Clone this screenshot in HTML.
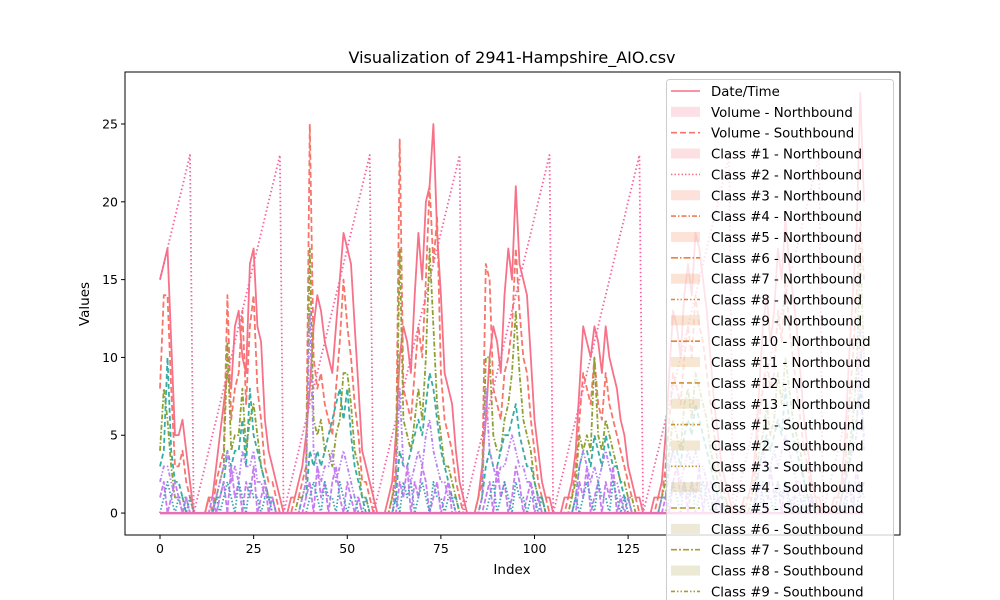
<!DOCTYPE html>
<html><head><meta charset="utf-8"><style>
html,body{margin:0;padding:0;background:#fff;}
svg{display:block;font-family:"DejaVu Sans","Liberation Sans",sans-serif;}
</style></head><body>
<svg id="chart" width="1000" height="600" viewBox="0 0 1000 600">
<rect x="0" y="0" width="1000" height="600" fill="#fff"/>
<text x="512" y="63" font-size="16" text-anchor="middle">Visualization of 2941-Hampshire_AIO.csv</text>
<g id="plot"></g>
<rect x="125" y="72" width="775" height="463" fill="none" stroke="#000" stroke-width="1"/>
<g id="xt"></g>
<g id="yt"></g>
<text x="512" y="574" font-size="13.5" text-anchor="middle">Index</text>
<text x="89" y="304" font-size="13.5" text-anchor="middle" transform="rotate(-90 89 304)">Values</text>
<g id="legend"></g>
</svg>
<script>
const xTicks=[0,25,50,75,100,125];
const yTicks=[0,5,10,15,20,25];
const hours=[15,16,17,18,19,20,21,22,23,
0,1,2,3,4,5,6,7,8,9,10,11,12,13,14,15,16,17,18,19,20,21,22,23,
0,1,2,3,4,5,6,7,8,9,10,11,12,13,14,15,16,17,18,19,20,21,22,23,
0,1,2,3,4,5,6,7,8,9,10,11,12,13,14,15,16,17,18,19,20,21,22,23,
0,1,2,3,4,5,6,7,8,9,10,11,12,13,14,15,16,17,18,19,20,21,22,23,
0,1,2,3,4,5,6,7,8,9,10,11,12,13,14,15,16,17,18,19,20,21,22,23,
0,1,2,3,4,5,6,7,8,9,10,11,12,13,14,15,16,17,18,19,20,21,22,23,
0,1,2,3,4,5,6,7,8,9,10,11,12,13,14,15,16,17,18,19,20,21,22,23,
0,1,2,3,4,5,6,7,8,9,10,11];
const totalVol=[15,16,17,11,5,5,6,4,2, 0,0,0,0,1,1,
3,5,7,9,8,12,13,10,9,16,17,12,11,6,4,3,2,1, 0,0,1,1,2,3,
5,8,12,14,13,11,10,9,12,15,18,17,16,12,8,4,3,2, 1,0,0,0,1,2,
5,10,12,11,9,14,18,15,20,21,25,18,14,9,8,7,4,2, 1,0,0,0,1,3,
6,10,12,11,9,14,17,15,21,16,15,14,10,6,4,2,1,1, 0,0,0,1,1,2,
4,8,12,11,10,12,11,9,12,10,9,8,6,5,3,2,1,1, 0,0,0,1,1,2,
5,9,13,12,10,14,16,14,18,17,15,13,10,7,5,3,2,1, 0,0,0,1,1,2,
4,8,12,14,11,13,17,15,19,16,14,12,9,6,4,2,1,1, 0,0,0,1,1,2,
5,10,14,18,27,20];
const southVol=[8,14,14,8,3,3,4,2,1, 0,0,0,0,1,0,
2,3,4,14,6,8,9,13,7,12,14,8,6,3,2,2,1,0, 0,0,0,1,1,2,
3,25,10,8,9,7,6,5,8,11,15,12,10,7,5,2,2,1, 0,0,0,0,0,1,
3,24,8,7,6,9,12,10,15,21,16,19,9,6,5,4,2,1, 0,0,0,0,1,2,
16,15,8,7,6,9,10,12,17,13,10,9,6,4,2,1,1,0, 0,0,0,0,1,1,
3,6,9,8,7,10,7,6,9,7,6,5,4,3,2,1,1,0, 0,0,0,0,1,1,
3,6,9,8,7,10,12,10,14,12,11,9,7,5,3,2,1,0, 0,0,0,0,1,1,
3,6,8,10,8,9,13,11,15,12,10,8,6,4,3,1,1,0, 0,0,0,0,1,1,
3,7,10,14,19,15];
const greenCls=[4,8,6,3,1,1,1,0,0, 0,0,0,0,0,0,
1,2,3,11,4,5,5,8,4,6,7,5,3,2,1,1,0,0, 0,0,0,0,1,1,
2,17,6,5,6,4,4,3,5,6,9,9,7,4,3,1,1,0, 0,0,0,0,0,1,
2,17,6,5,4,6,8,6,10,17,12,7,5,3,3,2,1,0, 0,0,0,0,0,1,
10,10,5,4,4,6,7,9,13,9,6,5,4,2,1,1,0,0, 0,0,0,0,0,1,
2,5,4,5,4,10,5,4,6,5,4,3,2,2,1,1,0,0, 0,0,0,0,0,1,
2,4,6,5,4,7,8,6,9,8,7,6,4,3,2,1,1,0, 0,0,0,0,0,1,
2,4,5,7,5,6,9,7,10,8,6,5,4,2,1,1,0,0, 0,0,0,0,0,1,
2,4,6,9,17,10];
const tealCls=[3,4,10,4,2,2,1,1,0, 0,0,0,0,0,0,
1,1,2,4,3,4,4,6,3,8,5,4,3,2,1,1,0,0, 0,0,0,0,0,1,
1,4,3,4,3,4,5,6,7,8,6,8,5,3,2,1,0,0, 0,0,0,0,0,0,
1,4,3,3,4,5,6,5,7,9,8,6,4,3,2,1,1,0, 0,0,0,0,0,1,
3,4,3,3,4,5,5,6,7,5,4,3,3,2,1,1,0,0, 0,0,0,0,0,0,
1,3,4,4,3,5,4,3,5,4,3,3,2,1,1,0,0,0, 0,0,0,0,0,1,
1,3,4,4,3,5,6,5,7,6,5,4,3,2,1,1,0,0, 0,0,0,0,0,0,
1,3,4,5,4,5,6,5,8,6,5,4,3,2,1,1,0,0, 0,0,0,0,0,1,
2,3,5,6,8,5];
const purpleCls=[2,3,3,2,1,1,0,1,0, 0,0,0,0,0,0,
1,2,3,4,2,3,2,4,3,3,4,2,2,1,1,0,0,0, 0,0,0,0,0,1,
2,13,4,3,2,3,3,4,2,3,4,3,2,1,1,0,0,0, 0,0,0,0,0,0,
2,8,3,3,2,3,4,3,5,6,4,3,2,2,1,1,0,0, 0,0,0,0,0,1,
8,4,3,2,3,3,4,5,4,3,3,2,2,1,1,0,0,0, 0,0,0,0,0,0,
1,3,4,3,2,3,2,3,4,3,2,2,1,1,0,0,0,0, 0,0,0,0,0,1,
1,3,4,3,2,3,4,3,4,3,3,2,2,1,1,0,0,0, 0,0,0,0,0,0,
1,3,4,3,3,4,3,4,5,4,3,2,2,1,1,0,0,0, 0,0,0,0,0,1,
2,3,4,5,12,4];
const lowA=[1,2,0,1,2,1,0,1,0, 0,0,0,0,0,1,
0,1,2,0,3,1,2,0,2,1,3,0,1,2,0,1,0,0, 0,0,0,0,0,0,
1,2,0,3,1,2,0,2,3,1,0,2,1,0,1,0,0,0, 0,0,0,0,0,0,
0,2,1,3,0,2,1,3,2,0,1,2,0,1,2,0,0,0, 0,0,0,0,0,0,
1,2,0,3,1,2,0,1,3,2,0,1,2,0,1,0,0,0, 0,0,0,0,0,0,
0,2,1,3,0,1,2,0,2,1,3,0,1,0,1,0,0,0, 0,0,0,0,0,0,
1,0,2,3,1,2,0,2,1,3,0,2,1,0,1,0,0,0, 0,0,0,0,0,0,
0,2,1,0,3,1,2,0,2,1,0,2,1,0,0,1,0,0, 0,0,0,0,0,0,
1,2,0,3,1,2];
const lowB=[0,1,2,1,0,1,1,0,1, 0,0,0,0,0,0,
1,0,1,2,1,0,2,1,0,2,1,1,0,1,1,0,0,0, 0,0,0,0,0,0,
0,1,2,1,0,2,1,1,0,2,1,0,1,1,0,0,1,0, 0,0,0,0,0,0,
1,0,2,1,2,0,1,2,1,0,2,1,1,0,1,1,0,0, 0,0,0,0,0,0,
0,1,2,0,1,2,1,0,2,1,1,0,1,1,0,1,0,0, 0,0,0,0,0,0,
1,0,1,2,1,0,2,1,1,0,2,1,0,1,0,0,0,0, 0,0,0,0,0,0,
0,1,2,1,0,2,1,2,0,1,2,1,0,1,0,0,0,0, 0,0,0,0,0,0,
1,0,2,1,1,0,2,1,2,0,1,1,0,1,0,0,0,0, 0,0,0,0,0,0,
0,2,1,0,2,1];
const legendLabels=["Date/Time","Volume - Northbound","Volume - Southbound",
"Class #1 - Northbound","Class #2 - Northbound","Class #3 - Northbound","Class #4 - Northbound",
"Class #5 - Northbound","Class #6 - Northbound","Class #7 - Northbound","Class #8 - Northbound",
"Class #9 - Northbound","Class #10 - Northbound","Class #11 - Northbound","Class #12 - Northbound",
"Class #13 - Northbound","Class #1 - Southbound","Class #2 - Southbound","Class #3 - Southbound",
"Class #4 - Southbound","Class #5 - Southbound","Class #6 - Southbound","Class #7 - Southbound",
"Class #8 - Southbound","Class #9 - Southbound"];
const legendColors=["#f77189","#f7728a","#f7766b","#f77479","#f7758a","#f7775d","#f77a4f","#f67c4f","#f0803a","#ee8344","#e8853a","#e48839","#de8a32","#d98c33","#d38e32","#cf9133","#cb9132","#c59335","#c19532","#bb9635","#b69732","#b29a45","#ad9b32","#aa9c3b","#a59d32"];
const legendStyles=["0","patch","6,3","patch","1.5,2","patch","5,2,1.5,2","patch","7,2,1.5,2","patch","4,2,1.5,2,1.5,2","patch","6,2,2,2","patch","5,3","patch","4,2,1.5,2,1.5,2","patch","1.5,2","patch","6,3","patch","6,2,2,2","patch","4,2,1.5,2,1.5,2"];

const NS="http://www.w3.org/2000/svg";
const X0=125,X1=900,Y0=72,Y1=535;
const xMin=-9.35,xMax=197.6,yMin=-1.41,yMax=28.34;
function sx(i){return X0+(i-xMin)/(xMax-xMin)*(X1-X0);}
function sy(v){return Y1-(v-yMin)/(yMax-yMin)*(Y1-Y0);}
function mk(tag,attrs,parent){const e=document.createElementNS(NS,tag);for(const k in attrs)e.setAttribute(k,attrs[k]);parent.appendChild(e);return e;}

const plot=document.getElementById('plot');
function line(arr,color,dash,w,name){
  const d=arr.map((v,i)=>(i?'L':'M')+sx(i).toFixed(1)+','+sy(v).toFixed(1)).join('');
  const p=mk('path',{d:d,fill:'none',stroke:color,'stroke-width':w,'stroke-dasharray':dash,'stroke-linejoin':'round'},plot);
  
  
}
const zeros=hours.map(()=>0);
line(totalVol,'#f77189','0',1.8,'total-volume-line');
line(southVol,'#f7766b','6,3',1.8,'southbound-volume-line');
line(hours,'#f564a0','1.5,2.5',1.8,'hour-line');
line(greenCls,'#8ea032','5,2,1.5,2',1.8,'class-green-line');
line(tealCls,'#36ada4','5,3',1.8,'class-teal-line');
line(purpleCls,'#b883f2','4,2,1.5,2,1.5,2',1.8,'class-purple-line');
line(lowA,'#c77cf0','5,2',1.8,'class-low-a-line');
line(lowB,'#3ba3b8','1.5,2',1.8,'class-low-b-line');
line(zeros,'#e86fb6','0',2.5,'zero-baseline');

const xt=document.getElementById('xt');
xTicks.forEach(t=>{
  const l=mk('line',{x1:sx(t),x2:sx(t),y1:Y1,y2:Y1+4,stroke:'#000'},xt);
  
  
  const tx=mk('text',{x:sx(t),y:Y1+18,'font-size':12.5,'text-anchor':'middle'},xt);
  tx.textContent=t;
  
  
});
const yt=document.getElementById('yt');
yTicks.forEach(t=>{
  const l=mk('line',{x1:X0-4,x2:X0,y1:sy(t),y2:sy(t),stroke:'#000'},yt);
  
  
  const tx=mk('text',{x:X0-7,y:sy(t)+4.5,'font-size':12.5,'text-anchor':'end'},yt);
  tx.textContent=t;
  
  
});

const lg=document.getElementById('legend');
const box=mk('rect',{x:666.5,y:79.5,width:227,height:540,rx:3,fill:'#fff','fill-opacity':0.8,stroke:'#ccc'},lg);


legendLabels.forEach((lab,i)=>{
  const cy=91+i*20.85;
  const c=legendColors[i],st=legendStyles[i];
  if(st==='patch'){
    const r=mk('rect',{x:671,y:cy-5,width:29,height:10,fill:c,'fill-opacity':0.22},lg);
    
    
  }else{
    const l=mk('line',{x1:671,x2:700,y1:cy,y2:cy,stroke:c,'stroke-width':1.6,'stroke-dasharray':st},lg);
    
    
  }
  const tx=mk('text',{x:711,y:cy+5,'font-size':13.3},lg);
  tx.textContent=lab;
  
  
});
</script>
</body></html>
